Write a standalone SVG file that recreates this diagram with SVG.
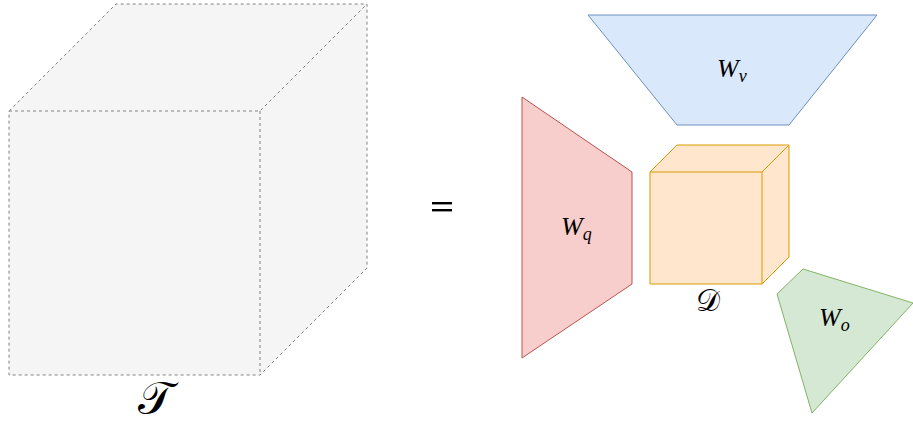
<svg xmlns="http://www.w3.org/2000/svg" width="913" height="427" viewBox="0 0 913 427">
<style>
.tc{fill:#f5f5f5;stroke:#808080;stroke-width:1;stroke-dasharray:3 3}
.blue{fill:#dae8fc;stroke:#6c8ebf;stroke-width:1}
.red{fill:#f8cecc;stroke:#b85450;stroke-width:1}
.org{fill:#ffe6cc;stroke:#d79b00;stroke-width:1}
.grn{fill:#d5e8d4;stroke:#82b366;stroke-width:1}
.lbl{font-family:"Liberation Serif","DejaVu Serif",serif;font-style:italic;font-size:26px;fill:#000}
.sub{font-size:18px}
.scr{font-family:"DejaVu Sans","DejaVu Serif","Liberation Serif",serif;fill:#000;text-anchor:middle}
</style>
<rect width="913" height="427" fill="#ffffff"/>
<g id="tensor-T">
  <path class="tc" d="M9,111 L116,4 L367,4 L367,268 L260,375 L9,375 Z"/>
  <path class="tc" d="M9,111 L260,111 L367,4 M260,111 L260,375" fill="none"/>
  <text class="scr" x="155" y="414" font-size="46">𝒯</text>
</g>
<g id="equals">
  <rect x="432" y="202" width="20" height="2.4" fill="#000"/>
  <rect x="432" y="209" width="20" height="2.4" fill="#000"/>
</g>
<g id="Wv">
  <polygon class="blue" points="588,15 877,15 789,125 677,125"/>
  <text class="lbl" x="717" y="77">W<tspan class="sub" dy="5">v</tspan></text>
</g>
<g id="Wq">
  <polygon class="red" points="522,97 632,172 632,284 522,358"/>
  <text class="lbl" x="561" y="235">W<tspan class="sub" dy="5">q</tspan></text>
</g>
<g id="core-D">
  <path class="org" d="M650,172 L677,145 L789,145 L789,257 L762,284 L650,284 Z"/>
  <path class="org" d="M650,172 L762,172 L789,145 M762,172 L762,284" fill="none"/>
  <text class="scr" x="708" y="311" font-size="30">𝒟</text>
</g>
<g id="Wo">
  <polygon class="grn" points="803,269 913,303 812,413 777,294"/>
  <text class="lbl" x="819" y="326">W<tspan class="sub" dy="5">o</tspan></text>
</g>
<g id="connectors"></g>
</svg>
